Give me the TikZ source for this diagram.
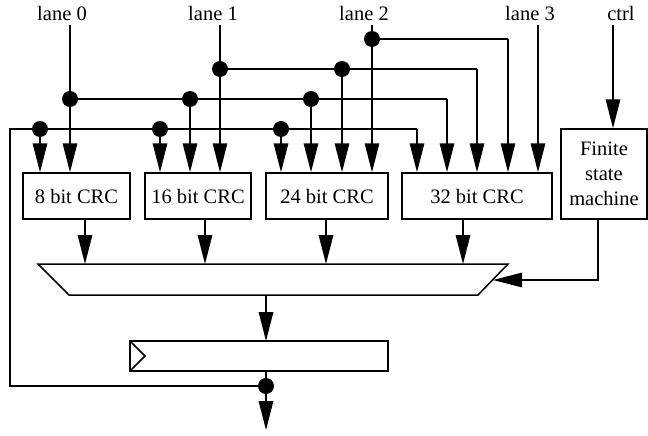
\documentclass[tikz,border=0pt]{standalone}
\usepackage{fontspec}
\setmainfont{Liberation Serif}
\usetikzlibrary{arrows.meta,calc}
\begin{document}
\begin{tikzpicture}[x=1pt,y=-1pt,
  wire/.style={line width=1.5pt},
  arr/.style={wire,-{Triangle[length=29pt,width=14.5pt]}},
  blk/.style={draw,line width=1.5pt,inner sep=0pt,font=\fontsize{20.5}{25}\selectfont},
  lbl/.style={inner sep=0pt,anchor=base,font=\fontsize{20.5}{25}\selectfont},
  jdot/.style={circle,fill=black,inner sep=0pt,minimum size=16pt}]
\useasboundingbox (0,0) rectangle (648,436);
% labels
\node[lbl] (L0) at (62,21) {lane 0};
\node[lbl] (L1) at (213,21) {lane 1};
\node[lbl] (L2) at (364,21) {lane 2};
\node[lbl] (L3) at (530,21) {lane 3};
\node[lbl] (LC) at (621,21) {ctrl};
\coordinate (t0) at (70,25);
\coordinate (t1) at (220,25);
\coordinate (t2) at (372,25);
\coordinate (t3) at (538,25);
\coordinate (tc) at (613,25);
% blocks
\node[blk,minimum width=107pt,minimum height=46pt] (crc8) at (76.5,196) {8 bit CRC};
\node[blk,minimum width=106pt,minimum height=46pt] (crc16) at (198,196) {16 bit CRC};
\node[blk,minimum width=122pt,minimum height=46pt] (crc24) at (327,196) {24 bit CRC};
\node[blk,minimum width=150pt,minimum height=46pt] (crc32) at (477,196) {32 bit CRC};
\node[blk,minimum width=86pt,minimum height=90pt,align=center] (fsm) at (604,174) {Finite\\state\\machine};
% mux
\coordinate (mTL) at (38,264);
\coordinate (mTR) at (508,264);
\coordinate (mBR) at (478,295);
\coordinate (mBL) at (69,295);
\draw[wire,line join=miter] (mTL) -- (mTR) -- (mBR) -- (mBL) -- cycle;
\coordinate (mIn) at (493,280);
\coordinate (mOut) at (266,295);
% register
\coordinate (rTL) at (130,341);
\coordinate (rBR) at (388,371);
\draw[wire] (rTL) rectangle (rBR);
\draw[wire] (rTL) -- (145,356) -- (130,371);
\coordinate (rIn) at (266,341);
\coordinate (rOut) at (266,371);
% junction dots
\node[jdot] (d0) at (70,99) {};
\node[jdot] (d0b) at (190,99) {};
\node[jdot] (d0c) at (311,99) {};
\node[jdot] (d1) at (220,69) {};
\node[jdot] (d1b) at (342,69) {};
\node[jdot] (d2) at (372,39) {};
\node[jdot] (fa) at (40,129) {};
\node[jdot] (fb) at (160,129) {};
\node[jdot] (fc) at (281,129) {};
\node[jdot] (dout) at (266,386) {};
\coordinate (oEnd) at (266,430);
\coordinate (fbL) at (10,386);
% lane 0
\draw[arr] (t0) -- (t0 |- crc8.north);
\draw[wire] (d0.center) -- (447,99) coordinate (c0);
\draw[arr] (c0) -- (c0 |- crc32.north);
\draw[arr] (d0b.center) -- (d0b |- crc16.north);
\draw[arr] (d0c.center) -- (d0c |- crc24.north);
% lane 1
\draw[arr] (t1) -- (t1 |- crc16.north);
\draw[wire] (d1.center) -- (477,69) coordinate (c1);
\draw[arr] (c1) -- (c1 |- crc32.north);
\draw[arr] (d1b.center) -- (d1b |- crc24.north);
% lane 2
\draw[arr] (t2) -- (t2 |- crc24.north);
\draw[wire] (d2.center) -- (508,39) coordinate (c2);
\draw[arr] (c2) -- (c2 |- crc32.north);
% lane 3
\draw[arr] (t3) -- (t3 |- crc32.north);
% ctrl
\draw[arr] (tc) -- (tc |- fsm.north);
% feedback
\draw[wire] (dout.center) -- (fbL) -- (fbL |- fa) -- (417,129) coordinate (cf);
\draw[arr] (cf) -- (cf |- crc32.north);
\draw[arr] (fa.center) -- (fa |- crc8.north);
\draw[arr] (fb.center) -- (fb |- crc16.north);
\draw[arr] (fc.center) -- (fc |- crc24.north);
% to mux
\coordinate (o8) at (crc8.south -| 85,0);
\coordinate (o16) at (crc16.south -| 205,0);
\coordinate (o24) at (crc24.south -| 326,0);
\coordinate (o32) at (crc32.south -| 463,0);
\coordinate (ofsm) at (fsm.south -| 598,0);
\draw[arr] (o8) -- (o8 |- mTL);
\draw[arr] (o16) -- (o16 |- mTL);
\draw[arr] (o24) -- (o24 |- mTL);
\draw[arr] (o32) -- (o32 |- mTL);
\draw[arr] (ofsm) -- (ofsm |- mIn) -- (mIn);
% mux to register, output
\draw[arr] (mOut) -- (rIn);
\draw[wire] (rOut) -- (dout.center);
\draw[arr] (dout.center) -- (oEnd);
\end{tikzpicture}
\end{document}
